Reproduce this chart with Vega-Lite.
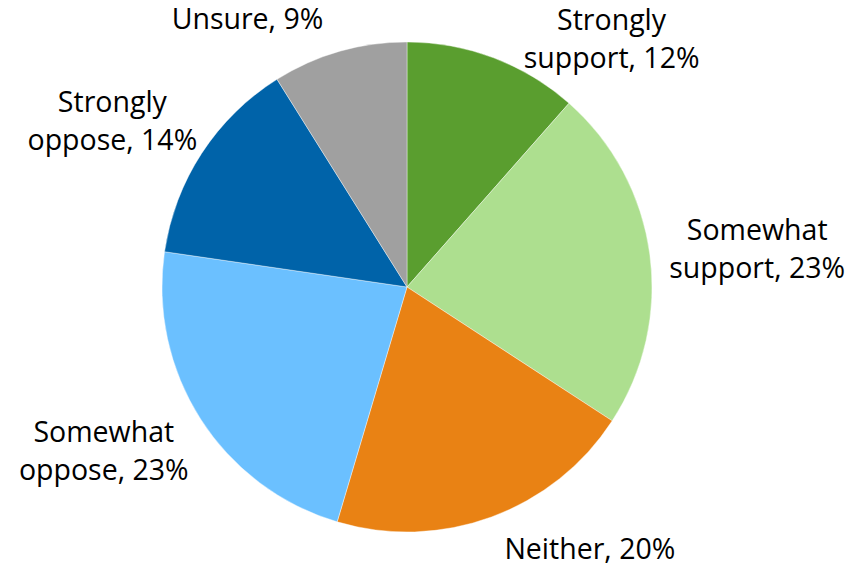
{
  "$schema": "https://vega.github.io/schema/vega-lite/v6.json",
  "width": 814,
  "height": 564,
  "autosize": {"type": "none"},
  "padding": {"left": 0, "right": 33, "top": 5, "bottom": 0},
  "background": "#ffffff",
  "config": {"view": {"stroke": null}},
  "data": {
    "values": [
      {"k": "Strongly support", "o": 1, "v": 11.5, "label": "Strongly\nsupport, 12%"},
      {"k": "Somewhat support", "o": 2, "v": 22.7, "label": "Somewhat\nsupport, 23%"},
      {"k": "Neither", "o": 3, "v": 20.4, "label": "Neither, 20%"},
      {"k": "Somewhat oppose", "o": 4, "v": 22.7, "label": "Somewhat\noppose, 23%"},
      {"k": "Strongly oppose", "o": 5, "v": 13.8, "label": "Strongly\noppose, 14%"},
      {"k": "Unsure", "o": 6, "v": 8.9, "label": "Unsure, 9%"}
    ]
  },
  "encoding": {
    "theta": {"field": "v", "type": "quantitative", "stack": true},
    "order": {"field": "o", "type": "quantitative"}
  },
  "layer": [
    {
      "mark": {"type": "arc", "outerRadius": 245, "stroke": "#ffffff", "strokeWidth": 0.4},
      "encoding": {
        "color": {
          "field": "k",
          "type": "nominal",
          "legend": null,
          "scale": {
            "domain": ["Strongly support", "Somewhat support", "Neither", "Somewhat oppose", "Strongly oppose", "Unsure"],
            "range": ["#5A9E2F", "#ADDF8F", "#E98214", "#6BC0FF", "#0063A9", "#A0A0A0"]
          }
        }
      }
    },
    {
      "mark": {"type": "text", "radius": 310, "dx": 95, "dy": 24, "fontSize": 28.5, "font": "Open Sans", "lineBreak": "\n", "lineHeight": 38, "color": "#000000"},
      "encoding": {"text": {"condition": {"test": "datum.k === 'Strongly support'", "field": "label"}, "value": ""}}
    },
    {
      "mark": {"type": "text", "radius": 310, "dx": 43, "dy": -14, "fontSize": 28.5, "font": "Open Sans", "lineBreak": "\n", "lineHeight": 38, "color": "#000000"},
      "encoding": {"text": {"condition": {"test": "datum.k === 'Somewhat support'", "field": "label"}, "value": ""}}
    },
    {
      "mark": {"type": "text", "radius": 310, "dx": 76, "dy": -28, "fontSize": 28.5, "font": "Open Sans", "lineBreak": "\n", "lineHeight": 38, "color": "#000000"},
      "encoding": {"text": {"condition": {"test": "datum.k === 'Neither'", "field": "label"}, "value": ""}}
    },
    {
      "mark": {"type": "text", "radius": 310, "dx": -42, "dy": -21, "fontSize": 28.5, "font": "Open Sans", "lineBreak": "\n", "lineHeight": 38, "color": "#000000"},
      "encoding": {"text": {"condition": {"test": "datum.k === 'Somewhat oppose'", "field": "label"}, "value": ""}}
    },
    {
      "mark": {"type": "text", "radius": 310, "dx": -35, "dy": -15, "fontSize": 28.5, "font": "Open Sans", "lineBreak": "\n", "lineHeight": 38, "color": "#000000"},
      "encoding": {"text": {"condition": {"test": "datum.k === 'Strongly oppose'", "field": "label"}, "value": ""}}
    },
    {
      "mark": {"type": "text", "radius": 310, "dx": -74, "dy": 31, "fontSize": 28.5, "font": "Open Sans", "lineBreak": "\n", "lineHeight": 38, "color": "#000000"},
      "encoding": {"text": {"condition": {"test": "datum.k === 'Unsure'", "field": "label"}, "value": ""}}
    }
  ]
}
